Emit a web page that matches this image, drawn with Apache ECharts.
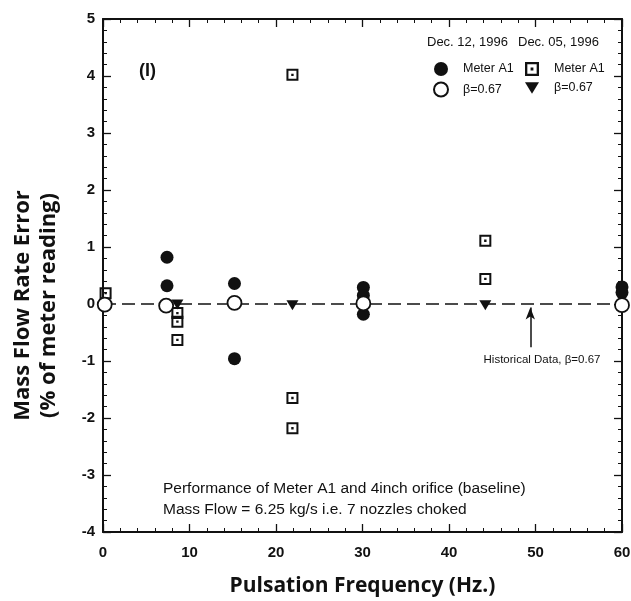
<!DOCTYPE html>
<html><head><meta charset="utf-8">
<script src="https://cdn.jsdelivr.net/npm/echarts@6/dist/echarts.min.js"></script>
<style>html,body{margin:0;padding:0;background:#fff}#c{width:631px;height:601px}</style>
</head><body><div id="c"></div>
<script>
// ---- data ----
const xTicks = [0, 10, 20, 30, 40, 50, 60];
const yTicks = [-4, -3, -2, -1, 0, 1, 2, 3, 4, 5];
const meterA1Dec12 = [[7.4,0.82],[7.4,0.32],[15.2,0.36],[15.2,-0.96],[30.1,0.29],[30.1,0.15],[30.1,-0.18],[60,0.3],[60,0.2]];
const betaDec12 = [[0.2,-0.01],[7.3,-0.03],[15.2,0.02],[30.1,0.01],[60,-0.02]];
const meterA1Dec05 = [[0.3,0.19],[8.6,-0.16],[8.6,-0.31],[8.6,-0.63],[21.9,4.02],[21.9,-1.65],[21.9,-2.18],[44.2,1.11],[44.2,0.44]];
const betaDec05 = [[8.6,-0.01],[21.9,-0.02],[44.2,-0.02]];
const historicalArrow = [[49.4,-0.76],[49.4,-0.06]];
const historicalLabel = [50.75,-0.98];

const INK = '#111';
const sqSymbol = 'path://M0,0 L12,0 L12,12 L0,12 Z M2,2 L2,10 L10,10 L10,2 Z M4.8,4.8 L7.2,4.8 L7.2,7.2 L4.8,7.2 Z';
const triDown = 'path://M0,0 L12,0 L6,10 Z';

const chart = echarts.init(document.getElementById('c'), null, {renderer:'canvas'});
const tickCommon = () => ({
  axisLine:{show:true, onZero:false, lineStyle:{color:INK, width:2}},
  axisTick:{show:true, inside:true, length:8, lineStyle:{color:INK, width:1.3}},
  minorTick:{show:true, splitNumber:5, length:4, lineStyle:{color:INK, width:1}},
  splitLine:{show:false}
});
const legendText = {fontFamily:'Liberation Sans', fontSize:12.5, color:INK, padding:[0,0,0,10]};
const option = {
  animation:false,
  grid:{left:103, right:9, top:19, bottom:69, containLabel:false, outerBoundsMode:'none'},
  xAxis:[
    Object.assign({type:'value', min:0, max:60, interval:10, position:'bottom',
      name:'Pulsation Frequency (Hz.)', nameLocation:'middle', nameGap:44,
      nameTextStyle:{fontFamily:'Open Sans', fontWeight:'bold', fontSize:21, color:INK},
      axisLabel:{fontFamily:'Liberation Sans', fontWeight:'bold', fontSize:15, color:INK, margin:13}}, tickCommon()),
    Object.assign({type:'value', min:0, max:60, interval:10, position:'top', axisLabel:{show:false}}, tickCommon())
  ],
  yAxis:[
    Object.assign({type:'value', min:-4, max:5, interval:1, position:'left',
      name:'Mass Flow Rate Error\n(% of meter reading)', nameLocation:'middle', nameGap:41, nameRotate:90,
      nameTextStyle:{fontFamily:'Open Sans', fontWeight:'bold', fontSize:22, color:INK, lineHeight:26, padding:[0,60,0,0]},
      axisLabel:{fontFamily:'Liberation Sans', fontWeight:'bold', fontSize:15, color:INK, margin:8}}, tickCommon()),
    Object.assign({type:'value', min:-4, max:5, interval:1, position:'right', axisLabel:{show:false}}, tickCommon())
  ],
  legend:[
    {left:433, top:62, orient:'vertical', padding:0, itemWidth:14, itemHeight:14, itemGap:5.5,
     data:['Dec12|Meter A1','Dec12|β=0.67'],
     formatter:n=>n.split('|')[1], textStyle:legendText},
    {left:525, top:62, orient:'vertical', padding:0, itemWidth:14, itemHeight:14, itemGap:5.5,
     data:['Dec05|Meter A1','Dec05|β=0.67'],
     formatter:n=>n.split('|')[1], textStyle:legendText}
  ],
  graphic:[
    {type:'text', left:427, top:36, style:{text:'Dec. 12, 1996', font:'13px "Liberation Sans"', fill:INK}},
    {type:'text', left:518, top:36, style:{text:'Dec. 05, 1996', font:'13px "Liberation Sans"', fill:INK}},
    {type:'text', left:139, top:62, style:{text:'(I)', font:'bold 18px "Liberation Sans"', fill:INK}},
    {type:'text', left:163, top:481, style:{text:'Performance of Meter A1 and 4inch orifice (baseline)', font:'15.5px "Liberation Sans"', fill:INK}},
    {type:'text', left:163, top:502, style:{text:'Mass Flow = 6.25 kg/s i.e. 7 nozzles choked', font:'15.5px "Liberation Sans"', fill:INK}}
  ],
  series:[
    {name:'Dec05|Meter A1', type:'scatter', data:meterA1Dec05, symbol:sqSymbol, symbolSize:12, clip:false,
     itemStyle:{color:INK, opacity:1}, z:2,
     markLine:{silent:true, symbol:'none', label:{show:false},
       lineStyle:{color:INK, width:1.6, type:[13,6]}, data:[{yAxis:0}]}},
    {name:'Dec05|β=0.67', type:'scatter', data:betaDec05, symbol:triDown, symbolSize:[12,10], clip:false,
     itemStyle:{color:INK, opacity:1}, z:3,
     markLine:{silent:true, symbol:['none','arrow'], symbolSize:[7,12], label:{show:false},
       lineStyle:{color:INK, width:1.5, type:'solid'},
       data:[[{coord:historicalArrow[0]},{coord:historicalArrow[1]}]]},
     markPoint:{symbol:'circle', symbolSize:1, itemStyle:{color:'rgba(0,0,0,0)'},
       label:{show:true, formatter:'Historical Data, β=0.67', fontFamily:'Liberation Sans', fontSize:11.5, color:INK, position:'inside'},
       data:[{coord:historicalLabel}]}},
    {name:'Dec12|Meter A1', type:'scatter', data:meterA1Dec12, symbol:'circle', symbolSize:13, clip:false,
     itemStyle:{color:INK, opacity:1}, z:4},
    {name:'Dec12|β=0.67', type:'scatter', data:betaDec12, symbol:'circle', symbolSize:14, clip:false,
     itemStyle:{color:'#fff', borderColor:INK, borderWidth:1.8, opacity:1}, z:5}
  ]
};
chart.setOption(option);
</script></body></html>
